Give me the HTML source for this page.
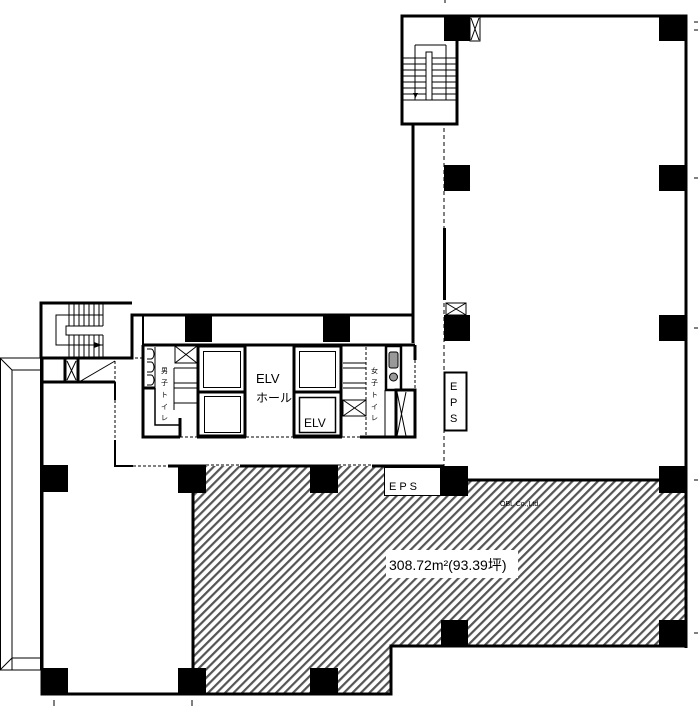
<!DOCTYPE html>
<html><head><meta charset="utf-8"><style>
html,body{margin:0;padding:0;background:#fff;width:698px;height:711px;overflow:hidden}
svg{display:block}
text{font-family:"Liberation Sans","Noto Sans CJK JP",sans-serif}
</style></head><body>
<svg width="698" height="711" viewBox="0 0 698 711" xmlns="http://www.w3.org/2000/svg">
<defs>
<pattern id="h" patternUnits="userSpaceOnUse" width="6" height="6" patternTransform="rotate(45)">
<rect width="6" height="6" fill="#fff"/><rect x="0" y="0" width="2.2" height="6" fill="#555"/>
</pattern>
</defs>
<polygon points="193,466 384,466 384,495 441,495 441,496 468,496 468,480 686,480 686,646 391,646 391,694 193,694" fill="url(#h)"/>
<rect x="386" y="550" width="132" height="28" fill="#fff"/>
<text x="389" y="570" font-size="14" fill="#000">308.72m²(93.39坪)</text>
<text x="500" y="506" font-size="7" fill="#000">OBL Co.,Ltd.</text>

<g stroke="#000" fill="none">
<polyline points="413,343 413,124 402,124 402,16 686,16 686,648" stroke-width="3"/>
<line x1="413" y1="124" x2="413" y2="343" stroke-width="2"/>
<polyline points="402,124 457,124 457,41" stroke-width="3"/>
<line x1="444" y1="128" x2="444" y2="466" stroke-width="1" stroke-dasharray="4,3"/>
<line x1="427" y1="124" x2="444" y2="124" stroke-width="1" stroke-dasharray="3,2"/>
<g stroke-width="1">
<line x1="403" y1="58" x2="456" y2="58"/><line x1="403" y1="64" x2="456" y2="64"/><line x1="403" y1="70" x2="456" y2="70"/><line x1="403" y1="76" x2="456" y2="76"/><line x1="403" y1="82" x2="456" y2="82"/><line x1="403" y1="88" x2="456" y2="88"/><line x1="403" y1="94" x2="456" y2="94"/><line x1="403" y1="100" x2="456" y2="100"/>
<line x1="415" y1="45" x2="446" y2="45"/><line x1="415" y1="45" x2="415" y2="100"/><line x1="446" y1="45" x2="446" y2="100"/>
<rect x="426" y="52" width="6" height="48" fill="#fff"/>
<rect x="470" y="17" width="10" height="24" fill="#fff"/><line x1="471" y1="18" x2="479" y2="40"/><line x1="479" y1="18" x2="471" y2="40"/>
</g>
<polygon points="413,93 418,93 415.5,98" fill="#000" stroke="none"/>

<polyline points="120,358 132,358 132,315 413,315" stroke-width="3"/>
<polyline points="143,345 143,315" stroke-width="2"/>
<line x1="143" y1="345" x2="415" y2="345" stroke-width="3"/>
<polyline points="41,358 41,303 132,303" stroke-width="3"/>
<line x1="41" y1="358" x2="120" y2="358" stroke-width="3"/>
<line x1="120" y1="358" x2="143" y2="358" stroke-width="1" stroke-dasharray="3,2"/>
<line x1="41" y1="382" x2="115" y2="382" stroke-width="3"/>
<g stroke-width="1">
<line x1="69" y1="304" x2="69" y2="326"/><line x1="74" y1="304" x2="74" y2="326"/><line x1="79" y1="304" x2="79" y2="326"/><line x1="84" y1="304" x2="84" y2="326"/><line x1="89" y1="304" x2="89" y2="326"/><line x1="94" y1="304" x2="94" y2="326"/><line x1="99" y1="304" x2="99" y2="326"/><line x1="103" y1="304" x2="103" y2="326"/>
<line x1="69" y1="335" x2="69" y2="357"/><line x1="74" y1="335" x2="74" y2="357"/><line x1="79" y1="335" x2="79" y2="357"/><line x1="84" y1="335" x2="84" y2="357"/><line x1="89" y1="335" x2="89" y2="357"/><line x1="94" y1="335" x2="94" y2="357"/><line x1="99" y1="335" x2="99" y2="357"/><line x1="103" y1="335" x2="103" y2="357"/>
<polyline points="103,315 56,315 56,345 103,345"/><polyline points="103,326 66,326 66,335 103,335"/>
<line x1="66" y1="326" x2="66" y2="335"/>
<line x1="79" y1="382" x2="115" y2="361"/>
<line x1="67" y1="361" x2="76" y2="380"/><line x1="76" y1="361" x2="67" y2="380"/>
<line x1="115" y1="361" x2="115" y2="382" stroke-dasharray="3,2"/>
</g>
<line x1="65" y1="358" x2="65" y2="382" stroke-width="3"/><line x1="78" y1="358" x2="78" y2="382" stroke-width="3"/>
<polygon points="94,342 102,345 94,348" fill="#000" stroke="none"/>

<g stroke-width="1">
<rect x="0.5" y="358" width="40" height="312"/>
<polyline points="12,670 12,370 41,370"/>
<polyline points="12,658 41,658"/>
<line x1="0" y1="358" x2="12" y2="370"/><line x1="0" y1="670" x2="12" y2="658"/>
</g>
<polyline points="42,358 42,694 193,694 193,485" stroke-width="3"/>
<polyline points="115,382 115,400" stroke-width="2"/>
<line x1="115" y1="400" x2="115" y2="440" stroke-width="1" stroke-dasharray="3,2"/>
<polyline points="115,440 115,466 133,466" stroke-width="2"/>
<line x1="133" y1="466" x2="168" y2="466" stroke-width="1" stroke-dasharray="3,2"/>
<line x1="168" y1="466" x2="206" y2="466" stroke-width="3"/>
<line x1="206" y1="465" x2="240" y2="465" stroke-width="1" stroke-dasharray="3,2"/>
<line x1="240" y1="466" x2="338" y2="466" stroke-width="3"/>
<line x1="338" y1="465" x2="372" y2="465" stroke-width="1" stroke-dasharray="3,2"/>
<line x1="372" y1="466" x2="444" y2="466" stroke-width="3"/>
<polyline points="468,480 686,480" stroke-width="3"/>
<polyline points="686,646 391,646 391,694 193,694" stroke-width="3"/>
<rect x="384.5" y="467.5" width="56" height="28" stroke-width="1" fill="#fff"/>
<rect x="444.5" y="372.5" width="22" height="58" stroke-width="2" fill="#fff"/>

<polyline points="143,345 143,437 180,437" stroke-width="3"/>
<line x1="180" y1="437" x2="197" y2="437" stroke-width="1" stroke-dasharray="3,2"/>
<line x1="197" y1="437" x2="246" y2="437" stroke-width="3"/>
<line x1="246" y1="437" x2="293" y2="437" stroke-width="1" stroke-dasharray="3,2"/>
<line x1="293" y1="437" x2="342" y2="437" stroke-width="3"/>
<line x1="342" y1="437" x2="360" y2="437" stroke-width="1" stroke-dasharray="3,2"/>
<line x1="360" y1="437" x2="415" y2="437" stroke-width="3"/>
<line x1="415" y1="345" x2="415" y2="360" stroke-width="3"/>
<line x1="415" y1="405" x2="415" y2="437" stroke-width="3"/>
<line x1="415" y1="360" x2="415" y2="405" stroke-width="1" stroke-dasharray="3,2"/>
<line x1="155" y1="347" x2="155" y2="388" stroke-width="1"/>
<line x1="143" y1="388" x2="155" y2="388" stroke-width="3"/>
<polyline points="155,388 155,425 180,425 180,437" stroke-width="1.5"/>
<line x1="180" y1="418" x2="180" y2="437" stroke-width="3"/>
<path d="M147,349 h4 a3,5 0 0 1 0,10 h-4 M147,362 h4 a3,5 0 0 1 0,10 h-4 M147,375 h4 a3,5 0 0 1 0,10 h-4" stroke-width="1"/>
<g stroke-width="1">
<rect x="175" y="346" width="22" height="17"/><line x1="175" y1="346" x2="197" y2="363"/><line x1="197" y1="346" x2="175" y2="363"/>
<line x1="174" y1="368" x2="197" y2="368"/><line x1="174" y1="383" x2="197" y2="383"/><line x1="174" y1="388" x2="197" y2="388"/><line x1="174" y1="403" x2="197" y2="403"/><line x1="174" y1="368" x2="174" y2="410"/>
</g>
<rect x="198" y="346" width="47" height="90" stroke-width="3"/>
<line x1="198" y1="392" x2="245" y2="392" stroke-width="3"/>
<rect x="203.5" y="351.5" width="37" height="36" stroke-width="1"/>
<rect x="204.5" y="396.5" width="36" height="36" stroke-width="1"/>
<line x1="246" y1="352" x2="246" y2="430" stroke-width="1" stroke-dasharray="3,2"/>
<rect x="294" y="346" width="47" height="90" stroke-width="3"/>
<line x1="294" y1="392" x2="341" y2="392" stroke-width="3"/>
<rect x="299.5" y="351.5" width="36" height="36" stroke-width="1"/>
<rect x="299.5" y="397.5" width="36" height="35" stroke-width="1.5"/>
<line x1="293" y1="352" x2="293" y2="430" stroke-width="1" stroke-dasharray="3,2"/>
<g stroke-width="1">
<line x1="343" y1="363" x2="366" y2="363"/><line x1="343" y1="368" x2="366" y2="368"/><line x1="343" y1="383" x2="366" y2="383"/><line x1="343" y1="388" x2="366" y2="388"/>
<rect x="343" y="400" width="23" height="16"/><line x1="343" y1="400" x2="366" y2="416"/><line x1="366" y1="400" x2="343" y2="416"/>
<line x1="366" y1="347" x2="366" y2="437" stroke-dasharray="3,2"/>
<line x1="385" y1="390" x2="385" y2="437"/>
<rect x="389" y="352" width="9" height="16" rx="2" fill="#999"/>
<circle cx="393.5" cy="377" r="4" fill="#999"/>
<line x1="397" y1="392" x2="406" y2="436"/><line x1="406" y1="392" x2="397" y2="436"/>
</g>
<rect x="386" y="346" width="15" height="44" stroke-width="2.5"/>
<rect x="396" y="390" width="19" height="47" stroke-width="3"/>
<g stroke-width="1"><rect x="446" y="303" width="20" height="12"/><line x1="446" y1="303" x2="466" y2="315"/><line x1="466" y1="303" x2="446" y2="315"/></g>
<g stroke-width="1"><line x1="54" y1="700" x2="54" y2="706"/><line x1="192" y1="700" x2="192" y2="706"/><line x1="445" y1="0" x2="445" y2="3"/><line x1="694" y1="22" x2="698" y2="22"/><line x1="694" y1="30" x2="698" y2="30"/><line x1="694" y1="178" x2="698" y2="178"/><line x1="694" y1="328" x2="698" y2="328"/><line x1="694" y1="480" x2="698" y2="480"/><line x1="694" y1="633" x2="698" y2="633"/></g>
</g>
<g fill="#000">
<rect x="444" y="16" width="26" height="25"/><rect x="659" y="16" width="27" height="25"/>
<rect x="444" y="165" width="26" height="26"/><rect x="659" y="165" width="27" height="26"/>
<rect x="444" y="315" width="26" height="26"/><rect x="659" y="315" width="27" height="26"/>
<rect x="440" y="466" width="28" height="30"/><rect x="659" y="466" width="27" height="27"/>
<rect x="441" y="620" width="27" height="26"/><rect x="659" y="620" width="27" height="26"/>
<rect x="185" y="316" width="27" height="26"/><rect x="323" y="316" width="27" height="26"/>
<rect x="41" y="465" width="27" height="27"/><rect x="178" y="465" width="28" height="28"/><rect x="310" y="466" width="28" height="27"/>
<rect x="41" y="668" width="27" height="26"/><rect x="178" y="668" width="28" height="26"/><rect x="310" y="668" width="28" height="26"/>
<rect x="443" y="228" width="3" height="72"/>
</g>
<g font-size="13" fill="#000">
<text x="256" y="383">ELV</text>
<text x="256" y="402" font-size="12">ホール</text>
<text x="304" y="427" font-size="12">ELV</text>
<text x="389" y="490" font-size="11" letter-spacing="3">EPS</text>
<text x="450" y="390" font-size="11">E</text><text x="450" y="406" font-size="11">P</text><text x="450" y="422" font-size="11">S</text>
</g>
<g font-size="7" fill="#000">
<text x="161" y="373">男</text><text x="161" y="385">子</text><text x="161" y="397">ト</text><text x="161" y="409">イ</text><text x="161" y="420">レ</text>
<text x="371" y="373">女</text><text x="371" y="385">子</text><text x="371" y="397">ト</text><text x="371" y="409">イ</text><text x="371" y="420">レ</text>
</g>
</svg>
</body></html>
